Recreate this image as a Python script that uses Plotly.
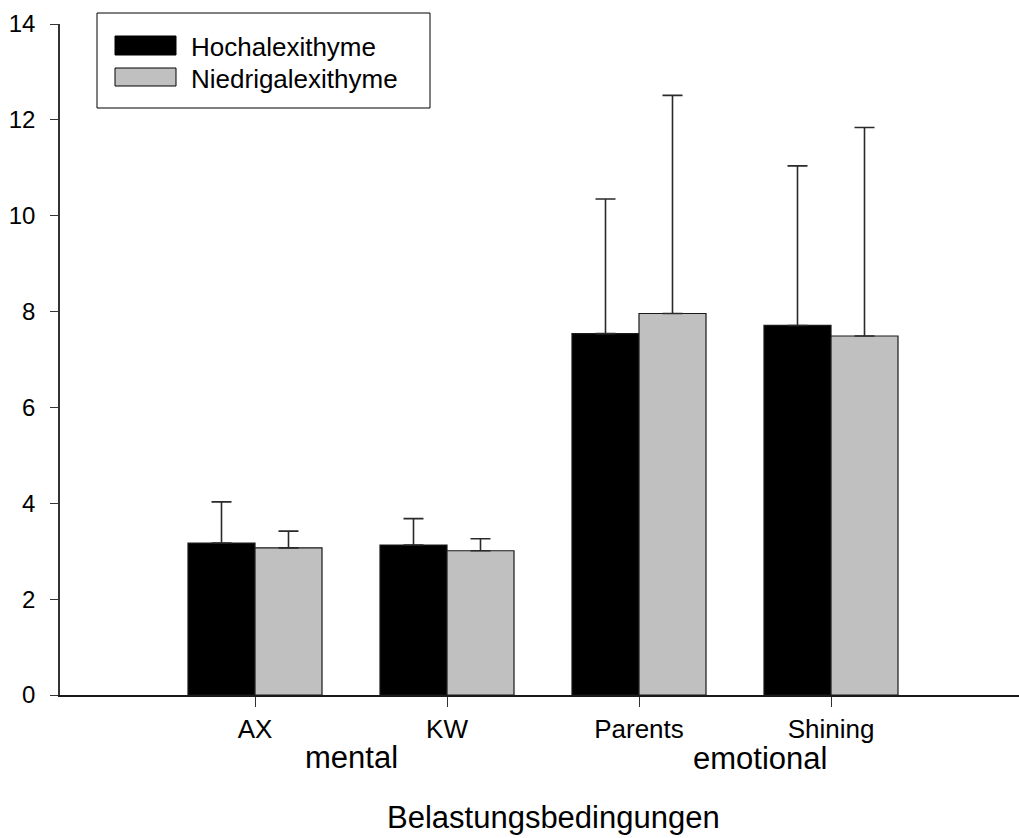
import plotly.graph_objects as go

# Data: mean scores and upper standard deviations per stress condition
categories = ["AX", "KW", "Parents", "Shining"]
hoch_mean = [3.17, 3.13, 7.54, 7.71]
hoch_sd = [0.86, 0.55, 2.81, 3.33]
niedrig_mean = [3.07, 3.01, 7.96, 7.49]
niedrig_sd = [0.35, 0.25, 4.55, 4.35]
series_names = ["Hochalexithyme", "Niedrigalexithyme"]
group_labels = ["mental", "emotional"]
x_title = "Belastungsbedingungen"

W, H = 1019, 838
ML, MR, MT, MB = 60, 0, 24, 143
FONT = "Liberation Sans, Arial, sans-serif"

x_pos = list(range(len(categories)))

fig = go.Figure()
for name, mean, sd, color in [
    (series_names[0], hoch_mean, hoch_sd, "#000000"),
    (series_names[1], niedrig_mean, niedrig_sd, "#c0c0c0"),
]:
    fig.add_trace(go.Bar(
        x=x_pos, y=mean, name=name,
        marker=dict(color=color, line=dict(color="#1a1a1a", width=1.2)),
        error_y=dict(type="data", symmetric=False, array=sd,
                     arrayminus=[0] * len(sd),
                     color="#2a2a2a", thickness=1.6, width=10),
        showlegend=False,
    ))

# pixel -> paper helpers for the hand-made legend
pw, ph = W - ML - MR, H - MT - MB
def px(x):
    return (x - ML) / pw
def py(y):
    return (H - MB - y) / ph

shapes = [
    dict(type="rect", xref="paper", yref="paper",
         x0=px(97), x1=px(430), y0=py(108), y1=py(13),
         line=dict(color="#000", width=1), fillcolor="white"),
    dict(type="rect", xref="paper", yref="paper",
         x0=px(115), x1=px(176), y0=py(55), y1=py(36),
         line=dict(color="#000", width=1), fillcolor="#000000"),
    dict(type="rect", xref="paper", yref="paper",
         x0=px(115), x1=px(176), y0=py(86), y1=py(68),
         line=dict(color="#000", width=1), fillcolor="#c0c0c0"),
]

annotations = [
    dict(xref="paper", yref="paper", x=px(189), y=py(47), text=series_names[0],
         showarrow=False, xanchor="left", yanchor="middle",
         font=dict(family=FONT, size=26, color="#000")),
    dict(xref="paper", yref="paper", x=px(189), y=py(79), text=series_names[1],
         showarrow=False, xanchor="left", yanchor="middle",
         font=dict(family=FONT, size=26, color="#000")),
    dict(xref="x", yref="paper", x=0.5, y=py(757), text=group_labels[0],
         showarrow=False, xanchor="center", yanchor="middle",
         font=dict(family=FONT, size=31, color="#000")),
    dict(xref="x", yref="paper", x=2.63, y=py(758), text=group_labels[1],
         showarrow=False, xanchor="center", yanchor="middle",
         font=dict(family=FONT, size=31, color="#000")),
    dict(xref="paper", yref="paper", x=px(553), y=py(817), text=x_title,
         showarrow=False, xanchor="center", yanchor="middle",
         font=dict(family=FONT, size=31, color="#000")),
]

fig.update_layout(
    width=W, height=H,
    margin=dict(l=ML, r=MR, t=MT, b=MB, pad=0),
    paper_bgcolor="white", plot_bgcolor="white",
    barmode="group", bargap=0.302, bargroupgap=0,
    shapes=shapes, annotations=annotations,
    font=dict(family=FONT, color="#000"),
)
fig.update_xaxes(
    range=[(ML - 255) / 192, (W - MR - 255) / 192],
    tickmode="array", tickvals=x_pos, ticktext=categories,
    ticks="outside", ticklen=10, tickwidth=1.2, tickcolor="#333",
    tickfont=dict(family=FONT, size=26, color="#000"),
    showline=True, linecolor="#1a1a1a", linewidth=2,
    showgrid=False, zeroline=False,
)
fig.update_yaxes(
    range=[0, 14], tickmode="linear", tick0=0, dtick=2,
    ticks="outside", ticklen=8, tickwidth=1.2, tickcolor="#333",
    tickfont=dict(family=FONT, size=24, color="#000"),
    ticklabelstandoff=10,
    showline=True, linecolor="#333", linewidth=1.5,
    showgrid=False, zeroline=False,
)

fig.write_html("out.html")
